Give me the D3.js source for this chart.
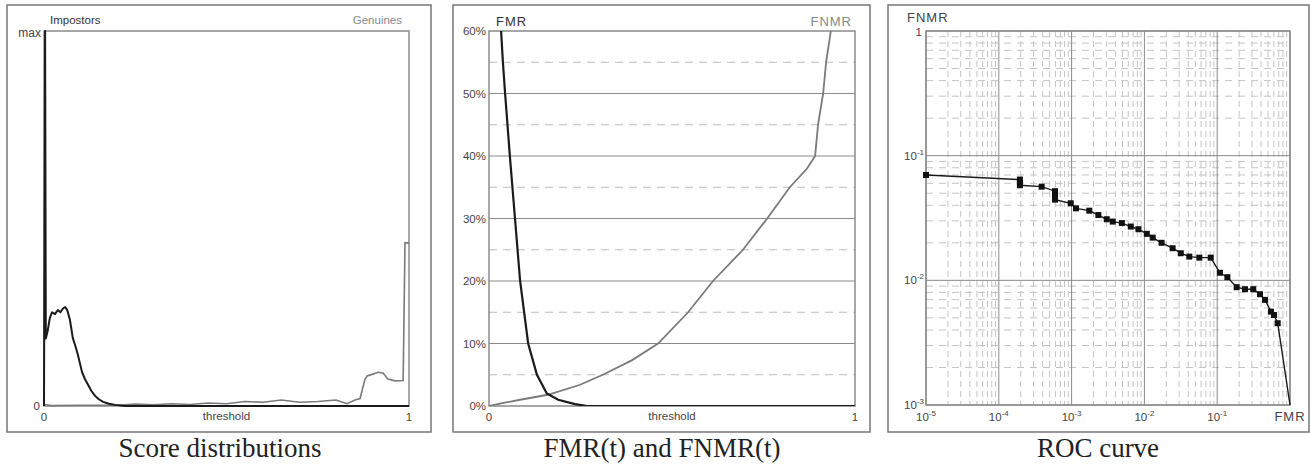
<!DOCTYPE html>
<html>
<head>
<meta charset="utf-8">
<script src="https://cdn.jsdelivr.net/npm/d3@7"></script>
<style>
  body { margin: 0; background: #fff; }
  text { font-family: 'Liberation Sans', Arial, sans-serif; }
</style>
</head>
<body>
<svg id="chart" width="1310" height="464"></svg>
<script>
// ---- data ----
// score distributions (fraction of max)
const impostorT = [0, 0.003, 0.005, 0.010, 0.016, 0.022, 0.030, 0.038, 0.045, 0.052, 0.058, 0.064, 0.071, 0.079, 0.086, 0.093, 0.104, 0.112, 0.121, 0.130, 0.140, 0.150, 0.162, 0.178, 0.195, 0.222, 0.3, 0.5, 0.7, 0.9, 1];
const impostorY = [0.0, 1.0, 0.18, 0.20, 0.235, 0.25, 0.245, 0.256, 0.25, 0.26, 0.264, 0.255, 0.23, 0.181, 0.16, 0.136, 0.091, 0.072, 0.056, 0.04, 0.027, 0.018, 0.011, 0.006, 0.003, 0, 0, 0, 0, 0, 0];
const genuineT = [0, 0.02, 0.1, 0.2, 0.25, 0.3, 0.35, 0.4, 0.45, 0.5, 0.55, 0.6, 0.65, 0.7, 0.75, 0.8, 0.83, 0.852, 0.866, 0.879, 0.885, 0.901, 0.915, 0.929, 0.942, 0.962, 0.984, 0.989, 1];
const genuineY = [0.004, 0.001, 0.002, 0.002, 0.005, 0.003, 0.006, 0.004, 0.008, 0.006, 0.012, 0.01, 0.016, 0.01, 0.012, 0.016, 0.006, 0.016, 0.02, 0.07, 0.08, 0.085, 0.09, 0.088, 0.072, 0.067, 0.068, 0.435, 0.435];

// error rates vs threshold (percent)
const fmrT = [0, 0.015, 0.033, 0.038, 0.044, 0.057, 0.071, 0.085, 0.107, 0.131, 0.158, 0.189, 0.235, 0.268, 1];
const fmrV = [100, 78, 60, 55, 50, 40, 30, 20, 10, 5, 2, 1, 0.3, 0, 0];
const fnmrT = [0, 0.04, 0.085, 0.161, 0.249, 0.311, 0.39, 0.462, 0.544, 0.612, 0.694, 0.76, 0.822, 0.869, 0.891, 0.899, 0.913, 0.921, 0.934, 0.96, 1];
const fnmrV = [0, 0.5, 1, 1.8, 3.4, 5, 7.3, 10, 15, 20, 25, 30, 35, 38, 40, 45, 50, 55, 60, 80, 100];
const pctTicks = [0, 10, 20, 30, 40, 50, 60];
const pctHalf = [5, 15, 25, 35, 45, 55];

// ROC points (FMR, FNMR)
const rocFMR = [1e-5, 1.95e-4, 1.95e-4, 1.95e-4, 3.88e-4, 5.92e-4, 5.92e-4, 5.92e-4, 9.73e-4, 1.15e-3, 1.75e-3, 2.33e-3, 3.04e-3, 3.68e-3, 4.90e-3, 6.50e-3, 8.28e-3, 0.0108, 0.0130, 0.0172, 0.0244, 0.0316, 0.0414, 0.0568, 0.0815, 0.109, 0.138, 0.185, 0.241, 0.313, 0.387, 0.454, 0.548, 0.603, 0.678, 1];
const rocFNMR = [0.0700, 0.0643, 0.0610, 0.0579, 0.0564, 0.0519, 0.0479, 0.0444, 0.0415, 0.0378, 0.0362, 0.0334, 0.0309, 0.0296, 0.0288, 0.0270, 0.0257, 0.0236, 0.0220, 0.0200, 0.0181, 0.0165, 0.0155, 0.0152, 0.0152, 0.0115, 0.0106, 0.00881, 0.00849, 0.00849, 0.00774, 0.00697, 0.00561, 0.00527, 0.00453, 0.001];

const svg = d3.select("#chart");
const serif = "'Liberation Serif', 'Times New Roman', serif";

function frame(x0, x1, title, cx) {
  svg.append("rect")
    .attr("x", x0).attr("y", 5)
    .attr("width", x1 - x0).attr("height", 427)
    .attr("fill", "none").attr("stroke", "#777").attr("stroke-width", 1.5);
  svg.append("text")
    .attr("x", cx).attr("y", 457)
    .attr("text-anchor", "middle")
    .style("font-family", serif)
    .attr("font-size", "27px")
    .attr("fill", "#222")
    .text(title);
}

function label(g, x, y, txt, opts = {}) {
  return g.append("text")
    .attr("x", x).attr("y", y)
    .attr("text-anchor", opts.anchor || "start")
    .attr("font-size", opts.size || "11.5px")
    .attr("fill", opts.fill || "#444")
    .attr("letter-spacing", opts.ls || 0)
    .text(txt);
}

// ================= Panel 1 : score distributions =================
frame(7, 431, "Score distributions", 220);
const x1 = d3.scaleLinear().domain([0, 1]).range([44, 409]);
const y1 = d3.scaleLinear().domain([0, 1]).range([406, 31]);
const p1 = svg.append("g");

p1.append("rect")
  .attr("x", x1(0)).attr("y", y1(1))
  .attr("width", x1(1) - x1(0)).attr("height", y1(0) - y1(1))
  .attr("fill", "none").attr("stroke", "#8a8a8a").attr("stroke-width", 1.5);

const line1 = (xs) => d3.line().x((d, i) => x1(xs[i])).y(d => y1(d));
p1.append("path")
  .attr("d", line1(genuineT)(genuineY))
  .attr("fill", "none").attr("stroke", "#7a7a7a").attr("stroke-width", 1.6);
p1.append("path")
  .attr("d", line1(impostorT)(impostorY))
  .attr("fill", "none").attr("stroke", "#1a1a1a").attr("stroke-width", 2)
  .attr("stroke-linejoin", "round");

label(p1, 50, 24, "Impostors", { fill: "#333" });
label(p1, 402, 24, "Genuines", { anchor: "end", fill: "#888" });
label(p1, 41, 37, "max", { anchor: "end", size: "12px" });
label(p1, 40, 410, "0", { anchor: "end" });
label(p1, x1(0), 421, "0", { anchor: "middle" });
label(p1, x1(1), 421, "1", { anchor: "middle" });
label(p1, (x1(0) + x1(1)) / 2, 420, "threshold", { anchor: "middle" });

// ================= Panel 2 : FMR / FNMR =================
frame(453, 870, "FMR(t) and FNMR(t)", 662);
const x2 = d3.scaleLinear().domain([0, 1]).range([489, 855]);
const y2 = d3.scaleLinear().domain([0, 60]).range([406, 31]);
const p2 = svg.append("g");

p2.selectAll(".half").data(pctHalf).join("line")
  .attr("x1", x2(0)).attr("x2", x2(1))
  .attr("y1", d => y2(d)).attr("y2", d => y2(d))
  .attr("stroke", "#bdbdbd").attr("stroke-width", 1)
  .attr("stroke-dasharray", "8,6");
p2.selectAll(".major").data(pctTicks.slice(1, -1)).join("line")
  .attr("x1", x2(0)).attr("x2", x2(1))
  .attr("y1", d => y2(d)).attr("y2", d => y2(d))
  .attr("stroke", "#8a8a8a").attr("stroke-width", 1);

p2.append("rect")
  .attr("x", x2(0)).attr("y", y2(60))
  .attr("width", x2(1) - x2(0)).attr("height", y2(0) - y2(60))
  .attr("fill", "none").attr("stroke", "#8a8a8a").attr("stroke-width", 1.5);

svg.append("clipPath").attr("id", "clip2")
  .append("rect")
  .attr("x", x2(0)).attr("y", y2(60))
  .attr("width", x2(1) - x2(0)).attr("height", y2(0) - y2(60));

const line2 = (xs) => d3.line().x((d, i) => x2(xs[i])).y(d => y2(d));
const curves = p2.append("g").attr("clip-path", "url(#clip2)");
curves.append("path")
  .attr("d", line2(fnmrT)(fnmrV))
  .attr("fill", "none").attr("stroke", "#7a7a7a").attr("stroke-width", 1.8);
curves.append("path")
  .attr("d", line2(fmrT)(fmrV))
  .attr("fill", "none").attr("stroke", "#1a1a1a").attr("stroke-width", 2.2);

pctTicks.forEach(p => label(p2, 486, y2(p) + 4, p + "%", { anchor: "end" }));
label(p2, 496, 26, "FMR", { fill: "#333", size: "13px", ls: "1px" });
label(p2, 852, 26, "FNMR", { anchor: "end", fill: "#888", size: "13px", ls: "1px" });
label(p2, x2(0), 421, "0", { anchor: "middle" });
label(p2, x2(1), 421, "1", { anchor: "middle" });
label(p2, (x2(0) + x2(1)) / 2, 420, "threshold", { anchor: "middle" });

// ================= Panel 3 : ROC =================
frame(888, 1309, "ROC curve", 1098);
const x3 = d3.scaleLog().domain([1e-5, 1]).range([926, 1290]);
const y3 = d3.scaleLog().domain([1e-3, 1]).range([405, 31]);
const p3 = svg.append("g");

const isDecade = v => Math.abs(Math.log10(v) - Math.round(Math.log10(v))) < 1e-6;
const xMinor = x3.ticks().filter(v => !isDecade(v));
const yMinor = y3.ticks().filter(v => !isDecade(v));
const xMajor = x3.ticks().filter(isDecade);
const yMajor = y3.ticks().filter(isDecade);

p3.selectAll(".vminor").data(xMinor).join("line")
  .attr("x1", d => x3(d)).attr("x2", d => x3(d))
  .attr("y1", y3(1)).attr("y2", y3(1e-3))
  .attr("stroke", "#c4c4c4").attr("stroke-width", 1)
  .attr("stroke-dasharray", "6,4");
p3.selectAll(".hminor").data(yMinor).join("line")
  .attr("x1", x3(1e-5)).attr("x2", x3(1))
  .attr("y1", d => y3(d)).attr("y2", d => y3(d))
  .attr("stroke", "#c4c4c4").attr("stroke-width", 1)
  .attr("stroke-dasharray", "7,6");
p3.selectAll(".vmajor").data(xMajor).join("line")
  .attr("x1", d => x3(d)).attr("x2", d => x3(d))
  .attr("y1", y3(1)).attr("y2", y3(1e-3))
  .attr("stroke", "#8a8a8a").attr("stroke-width", 1);
p3.selectAll(".hmajor").data(yMajor).join("line")
  .attr("x1", x3(1e-5)).attr("x2", x3(1))
  .attr("y1", d => y3(d)).attr("y2", d => y3(d))
  .attr("stroke", "#8a8a8a").attr("stroke-width", 1);

p3.append("rect")
  .attr("x", x3(1e-5)).attr("y", y3(1))
  .attr("width", x3(1) - x3(1e-5)).attr("height", y3(1e-3) - y3(1))
  .attr("fill", "none").attr("stroke", "#8a8a8a").attr("stroke-width", 1.5);

const roc = rocFMR.map((f, i) => [f, rocFNMR[i]]);
p3.append("path")
  .attr("d", d3.line().x(d => x3(d[0])).y(d => y3(d[1]))(roc))
  .attr("fill", "none").attr("stroke", "#1a1a1a").attr("stroke-width", 1.4);
p3.selectAll(".pt").data(roc.slice(0, -1)).join("rect")
  .attr("x", d => x3(d[0]) - 3).attr("y", d => y3(d[1]) - 3)
  .attr("width", 6).attr("height", 6)
  .attr("fill", "#111");

// axis labels with exponents
function powLabel(x, y, exp, anchor) {
  const t = p3.append("text")
    .attr("x", x).attr("y", y)
    .attr("text-anchor", anchor)
    .attr("font-size", "11.5px").attr("fill", "#444");
  t.append("tspan").text("10");
  t.append("tspan").attr("dy", -5).attr("font-size", "8px").text(exp);
}
xMajor.slice(0, -1).forEach(v => powLabel(x3(v), 421, String(Math.round(Math.log10(v))), "middle"));
label(p3, x3(1), 421, "FMR", { anchor: "middle", size: "13px", ls: "1px" });
label(p3, 922, 36, "1", { anchor: "end" });
yMajor.filter(v => v < 1).forEach(v => powLabel(924, y3(v) + 4, String(Math.round(Math.log10(v))), "end"));
label(p3, 907, 22, "FNMR", { size: "13px", ls: "1px" });
</script>
</body>
</html>
